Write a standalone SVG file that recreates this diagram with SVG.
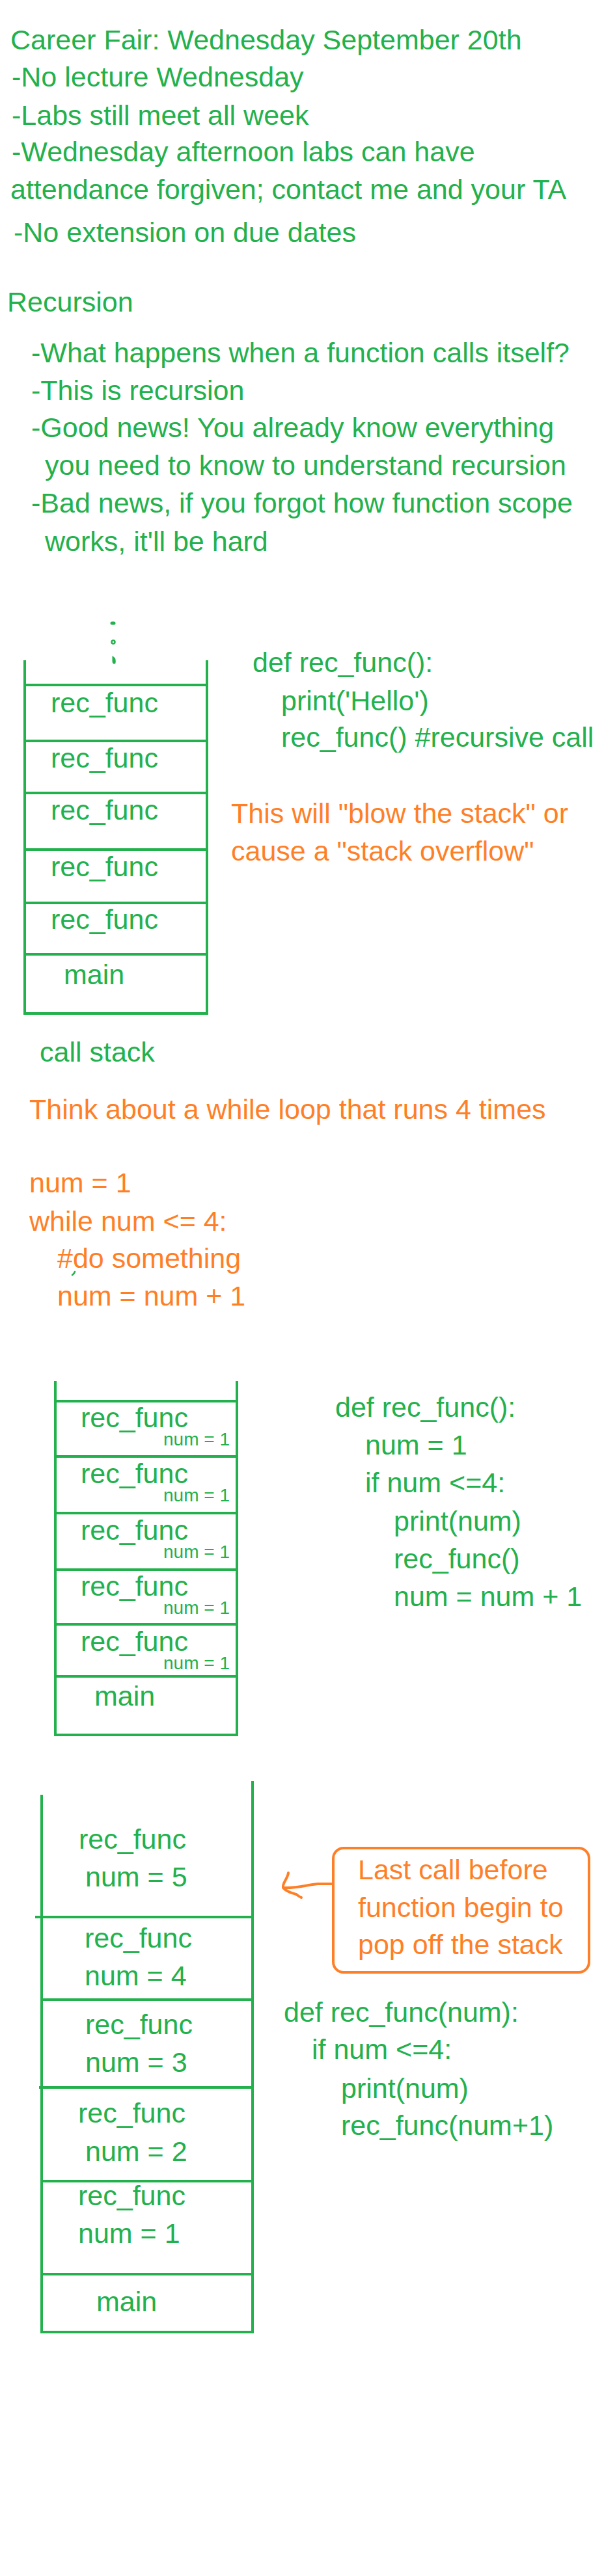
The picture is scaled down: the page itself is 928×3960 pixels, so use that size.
<svg xmlns="http://www.w3.org/2000/svg" width="928" height="3960" viewBox="0 0 928 3960">
<style>
text{font-family:"Liberation Sans",Arial,sans-serif;font-size:43px}
.g{fill:#22B14C}
.o{fill:#FF7F27}
.sm{font-size:28px}
.ln{stroke:#22B14C;stroke-width:4;fill:none;stroke-linecap:square}
.ol{stroke:#FF7F27;stroke-width:4;fill:none;stroke-linecap:round;stroke-linejoin:round}
</style>
<rect width="928" height="3960" fill="#fff"/>

<g id="header">
<text class="g" x="16" y="76">Career Fair: Wednesday September 20th</text>
<text class="g" x="18" y="133">-No lecture Wednesday</text>
<text class="g" x="18" y="192">-Labs still meet all week</text>
<text class="g" x="18" y="248">-Wednesday afternoon labs can have</text>
<text class="g" x="16" y="306">attendance forgiven; contact me and your TA</text>
<text class="g" x="21" y="372">-No extension on due dates</text>
</g>

<g id="recursion-notes">
<text class="g" x="11" y="479">Recursion</text>
<text class="g" x="48" y="557">-What happens when a function calls itself?</text>
<text class="g" x="48" y="615">-This is recursion</text>
<text class="g" x="48" y="672">-Good news! You already know everything</text>
<text class="g" x="69" y="730">you need to know to understand recursion</text>
<text class="g" x="48" y="788">-Bad news, if you forgot how function scope</text>
<text class="g" x="69" y="847">works, it'll be hard</text>
</g>

<g id="stack1">
<path class="ln" d="M38,1017 V1558 H318 V1017"/>
<path class="ln" d="M38,1053 H318 M40,1139 H318 M38,1219 H318 M38,1306 H318 M38,1388 H318 M38,1467 H318"/>
<path d="M172,958 h3" stroke="#22B14C" stroke-width="5" stroke-linecap="round"/>
<circle cx="174" cy="987" r="2.5" fill="none" stroke="#22B14C" stroke-width="2.5"/>
<path d="M174,1011 q3,2 2,8 q-2,1 -2,-3 z" stroke="#22B14C" stroke-width="3" fill="#22B14C"/>
<text class="g" x="78" y="1095">rec_func</text>
<text class="g" x="78" y="1180">rec_func</text>
<text class="g" x="78" y="1260">rec_func</text>
<text class="g" x="78" y="1347">rec_func</text>
<text class="g" x="78" y="1428">rec_func</text>
<text class="g" x="98" y="1513">main</text>
<text class="g" x="61" y="1632">call stack</text>
</g>

<g id="code1">
<text class="g" x="388" y="1033">def rec_func():</text>
<text class="g" x="432" y="1092">print('Hello')</text>
<text class="g" x="432" y="1148">rec_func() #recursive call</text>
</g>

<g id="overflow-note">
<text class="o" x="355" y="1265">This will "blow the stack" or</text>
<text class="o" x="355" y="1323">cause a "stack overflow"</text>
</g>

<g id="while-loop">
<text class="o" x="45" y="1720">Think about a while loop that runs 4 times</text>
<text class="o" x="45" y="1833">num = 1</text>
<text class="o" x="45" y="1892">while num &lt;= 4:</text>
<text class="o" x="88" y="1949">#do something</text>
<text class="o" x="88" y="2007">num = num + 1</text>
<path d="M115,1955 q-1,3 -4,5" stroke="#22B14C" stroke-width="2.5" fill="none" stroke-linecap="round"/>
</g>

<g id="stack2">
<path class="ln" d="M85,2125 V2667 H364 V2125"/>
<path class="ln" d="M85,2154 H364 M87,2239 H364 M85,2326 H364 M85,2413 H364 M85,2497 H364 M85,2577 H364"/>
<text class="g" x="124" y="2194">rec_func</text>
<text class="g sm" x="251" y="2222">num = 1</text>
<text class="g" x="124" y="2280">rec_func</text>
<text class="g sm" x="251" y="2308">num = 1</text>
<text class="g" x="124" y="2367">rec_func</text>
<text class="g sm" x="251" y="2395">num = 1</text>
<text class="g" x="124" y="2453">rec_func</text>
<text class="g sm" x="251" y="2481">num = 1</text>
<text class="g" x="124" y="2538">rec_func</text>
<text class="g sm" x="251" y="2566">num = 1</text>
<text class="g" x="145" y="2622">main</text>
</g>

<g id="code2">
<text class="g" x="515" y="2178">def rec_func():</text>
<text class="g" x="561" y="2236">num = 1</text>
<text class="g" x="561" y="2294">if num &lt;=4:</text>
<text class="g" x="605" y="2353">print(num)</text>
<text class="g" x="605" y="2411">rec_func()</text>
<text class="g" x="605" y="2469">num = num + 1</text>
</g>

<g id="stack3">
<path class="ln" d="M64,2761 V3585 H388 V2740"/>
<path class="ln" d="M56,2947 H388 M64,3074 H388 M62,3209 H388 M64,3353 H388 M64,3496 H388"/>
<text class="g" x="121" y="2842">rec_func</text>
<text class="g" x="131" y="2900">num = 5</text>
<text class="g" x="130" y="2994">rec_func</text>
<text class="g" x="130" y="3052">num = 4</text>
<text class="g" x="131" y="3127">rec_func</text>
<text class="g" x="131" y="3185">num = 3</text>
<text class="g" x="120" y="3263">rec_func</text>
<text class="g" x="131" y="3322">num = 2</text>
<text class="g" x="120" y="3390">rec_func</text>
<text class="g" x="120" y="3448">num = 1</text>
<text class="g" x="148" y="3553">main</text>
</g>

<g id="callout">
<rect x="512" y="2841" width="393" height="191" rx="16" ry="16" fill="none" stroke="#FF7F27" stroke-width="4"/>
<text class="o" x="550" y="2889">Last call before</text>
<text class="o" x="550" y="2947">function begin to</text>
<text class="o" x="550" y="3004">pop off the stack</text>
</g>

<g id="code3">
<text class="g" x="436" y="3108">def rec_func(num):</text>
<text class="g" x="479" y="3165">if num &lt;=4:</text>
<text class="g" x="524" y="3225">print(num)</text>
<text class="g" x="524" y="3282">rec_func(num+1)</text>
</g>

<g id="connectors">
<path class="ol" stroke-width="2.5" d="M512,2896 L488,2896 C470,2898 455,2903 436,2902"/>
<path class="ol" stroke-width="2.5" d="M443,2879 C442,2888 433,2896 435,2902 C440,2908 448,2910 455,2912 C458,2914 460,2916 463,2917"/>
</g>
</svg>
